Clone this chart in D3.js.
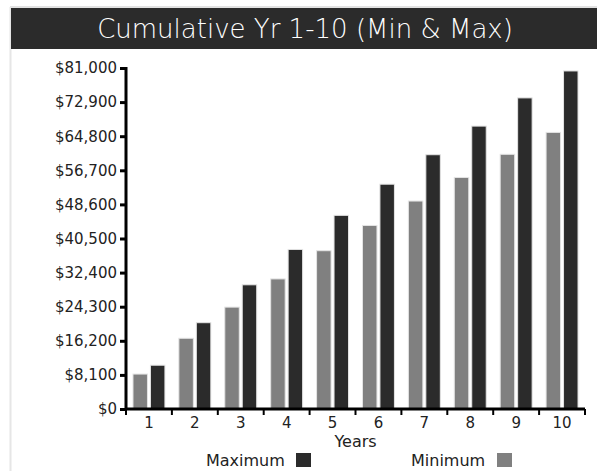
<!DOCTYPE html>
<html>
<head>
<meta charset="utf-8">
<script src="https://cdn.jsdelivr.net/npm/d3@7"></script>
<style>
  body { margin: 0; background: #fff; }
  text { font-family: "DejaVu Sans", sans-serif; }
</style>
</head>
<body>
<div id="chart"></div>
<script>
// data
var years = ["1", "2", "3", "4", "5", "6", "7", "8", "9", "10"];
var minValues = [8300, 16800, 24200, 30900, 37600, 43600, 49400, 55000, 60500, 65700];
var maxValues = [10400, 20500, 29500, 37900, 46000, 53400, 60400, 67200, 73900, 80300];
var yTicks = [0, 8100, 16200, 24300, 32400, 40500, 48600, 56700, 64800, 72900, 81000];
var seriesNames = ["Minimum", "Maximum"];

var svgWidth = 597, svgHeight = 471;
var margin = {top: 68, left: 126, right: 12, bottom: 62};
var width = svgWidth - margin.left - margin.right;
var height = svgHeight - margin.top - margin.bottom;

var colors = {Minimum: "#808080", Maximum: "#2b2b2b"};

var svg = d3.select("#chart").append("svg")
    .attr("width", svgWidth)
    .attr("height", svgHeight);

// panel border
svg.append("line").attr("x1", 10).attr("x2", 597).attr("y1", 7).attr("y2", 7)
    .attr("stroke", "#e2e2e2").attr("stroke-width", 2);
svg.append("line").attr("x1", 10.5).attr("x2", 10.5).attr("y1", 7).attr("y2", 471)
    .attr("stroke", "#e6e6e6").attr("stroke-width", 2);

// title bar
svg.append("rect").attr("x", 11).attr("y", 8).attr("width", 586).attr("height", 41)
    .attr("fill", "#2b2b2b");
svg.append("text")
    .attr("x", 305).attr("y", 38)
    .attr("text-anchor", "middle")
    .attr("fill", "#fff")
    .attr("font-size", "26px")
    .attr("font-weight", 300)
    .text("Cumulative Yr 1-10 (Min & Max)");

var chartGroup = svg.append("g")
    .attr("transform", `translate(${margin.left}, ${margin.top})`);

var x0 = d3.scaleBand().domain(years).range([0, width]).padding(0);
var x1 = d3.scaleBand().domain(seriesNames).range([0, x0.bandwidth()])
    .paddingInner(0.17).paddingOuter(0.4);
var y = d3.scaleLinear().domain([0, 81000]).range([height, 0]);

var rows = years.map(function(yr, i) {
    return {year: yr, Minimum: minValues[i], Maximum: maxValues[i]};
});

// bars
var groups = chartGroup.selectAll(".yr")
    .data(rows)
    .enter().append("g")
    .attr("transform", d => `translate(${x0(d.year)},0)`);

groups.selectAll("rect")
    .data(d => seriesNames.map(k => ({key: k, value: d[k]})))
    .enter().append("rect")
    .attr("x", d => x1(d.key))
    .attr("y", d => y(d.value))
    .attr("width", x1.bandwidth())
    .attr("height", d => height - y(d.value))
    .attr("fill", d => colors[d.key])
    .attr("stroke", "#e4e4e4")
    .attr("stroke-width", 1);

// y axis
var leftAxis = d3.axisLeft(y).tickValues(yTicks).tickSize(6).tickPadding(3)
    .tickFormat(d => "$" + d3.format(",")(d));
var yAxisG = chartGroup.append("g").call(leftAxis);
yAxisG.select(".domain").attr("stroke", "#000").attr("stroke-width", 3)
    .attr("d", `M-6,0.5H0V${height}`);
yAxisG.selectAll(".tick line").attr("stroke", "#000").attr("stroke-width", 3);
yAxisG.selectAll("text").attr("font-size", "15px").attr("fill", "#222")
    .attr("font-family", "DejaVu Sans, sans-serif");

// x axis: labels at band centers
var bottomAxis = d3.axisBottom(x0).tickSize(0).tickPadding(8);
var xAxisG = chartGroup.append("g")
    .attr("transform", `translate(0, ${height})`)
    .call(bottomAxis);
xAxisG.select(".domain").attr("stroke", "#000").attr("stroke-width", 3)
    .attr("d", `M0,0H${width}`);
xAxisG.selectAll("text").attr("font-size", "15px").attr("fill", "#222")
    .attr("font-family", "DejaVu Sans, sans-serif");

// boundary ticks between years
var bounds = years.map(d => x0(d)).concat([width]);
xAxisG.selectAll(".bound")
    .data(bounds)
    .enter().append("line")
    .attr("x1", d => d).attr("x2", d => d)
    .attr("y1", 0).attr("y2", 6)
    .attr("stroke", "#000").attr("stroke-width", 2);

// axis title
chartGroup.append("text")
    .attr("x", width / 2).attr("y", height + 38)
    .attr("text-anchor", "middle")
    .attr("font-size", "16px").attr("fill", "#222")
    .text("Years");

// legend
var legendItems = [
    {name: "Maximum", x: 206, swatch: 296},
    {name: "Minimum", x: 411, swatch: 497}
];
var legend = svg.selectAll(".legend")
    .data(legendItems)
    .enter().append("g");
legend.append("text")
    .attr("x", d => d.x).attr("y", 466)
    .attr("font-size", "16px").attr("fill", "#222")
    .text(d => d.name);
legend.append("rect")
    .attr("x", d => d.swatch)
    .attr("y", 453)
    .attr("width", 15).attr("height", 14)
    .attr("fill", d => colors[d.name]);
</script>
</body>
</html>
